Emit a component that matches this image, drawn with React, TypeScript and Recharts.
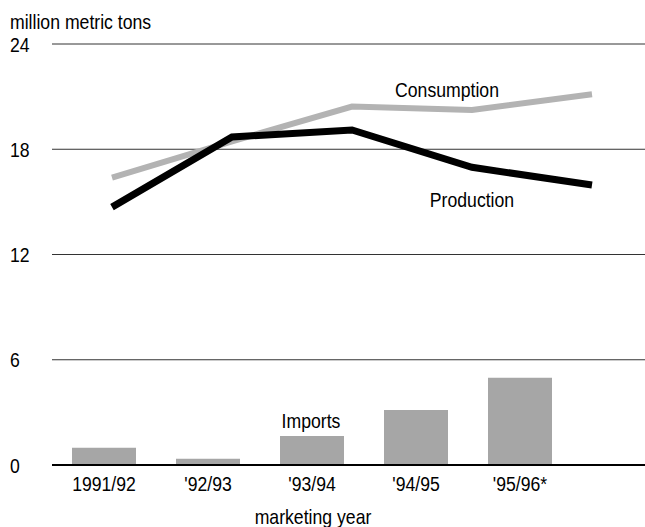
import { ComposedChart, Bar, Line, XAxis, YAxis, CartesianGrid } from "recharts";

const years = ["1991/92", "'92/93", "'93/94", "'94/95", "'95/96*"];
const imports = [0.99, 0.36, 1.65, 3.14, 4.98];
const production = [14.7, 18.7, 19.1, 16.97, 15.96];
const consumption = [16.38, 18.45, 20.43, 20.24, 21.13];
const yTicks = [0, 6, 12, 18, 24];

const data = years.map((year, i) => ({
  year,
  imports: imports[i],
  production: production[i],
  consumption: consumption[i],
}));

const FONT = "'Liberation Sans', Arial, sans-serif";
const SIZE = 21;
const SQUEEZE = 0.84;

const YTick = ({ y, payload }: any) => (
  <text
    transform={`translate(10,${y}) scale(${SQUEEZE},1)`}
    dy="0.36em"
    textAnchor="start"
    fontSize={SIZE}
    fontFamily={FONT}
    fill="#000"
  >
    {payload.value}
  </text>
);

const XTick = ({ x, y, payload }: any) => (
  <text
    transform={`translate(${x},${y}) scale(${SQUEEZE},1)`}
    dy="0.8em"
    textAnchor="middle"
    fontSize={SIZE}
    fontFamily={FONT}
    fill="#000"
  >
    {payload.value}
  </text>
);

const Note = ({ x, y, text }: { x: number; y: number; text: string }) => (
  <div
    style={{
      position: "absolute",
      left: x,
      top: y,
      transform: `translate(-50%, -50%) scaleX(${SQUEEZE})`,
      fontFamily: FONT,
      fontSize: SIZE,
      lineHeight: 1,
      whiteSpace: "nowrap",
      color: "#000",
    }}
  >
    {text}
  </div>
);

export default function App() {
  return (
    <div style={{ position: "absolute", left: 0, top: 0, width: 645, height: 527 }}>
      <ComposedChart width={645} height={527} data={data} margin={{ top: 44, right: 0, left: 0, bottom: 32 }}>
        <CartesianGrid horizontal vertical={false} stroke="#333" strokeWidth={1} />
        <XAxis
          dataKey="year"
          padding={{ left: 0, right: 73 }}
          tickLine={false}
          tickSize={0}
          tickMargin={9}
          height={30}
          axisLine={{ stroke: "#000", strokeWidth: 2 }}
          tick={<XTick />}
          interval={0}
        />
        <XAxis xAxisId="line" dataKey="year" scale="point" padding={{ left: 60, right: 53 }} hide />
        <YAxis
          domain={[0, 24]}
          ticks={yTicks}
          width={52}
          axisLine={false}
          tickLine={false}
          tick={<YTick />}
        />
        <Bar dataKey="imports" fill="#a6a6a6" barSize={64} isAnimationActive={false} />
        <Line
          xAxisId="line"
          dataKey="consumption"
          stroke="#b3b3b3"
          strokeWidth={6}
          dot={false}
          type="linear"
          isAnimationActive={false}
        />
        <Line
          xAxisId="line"
          dataKey="production"
          stroke="#000"
          strokeWidth={7}
          dot={false}
          type="linear"
          isAnimationActive={false}
        />
      </ComposedChart>
      <div
        style={{
          position: "absolute",
          left: 10,
          top: 11,
          transform: `scaleX(${SQUEEZE})`,
          transformOrigin: "left top",
          fontFamily: FONT,
          fontSize: SIZE,
          lineHeight: 1,
          whiteSpace: "nowrap",
          color: "#000",
        }}
      >
        million metric tons
      </div>
      <Note x={447} y={89} text="Consumption" />
      <Note x={472} y={199} text="Production" />
      <Note x={311} y={420} text="Imports" />
      <Note x={313} y={516} text="marketing year" />
    </div>
  );
}
